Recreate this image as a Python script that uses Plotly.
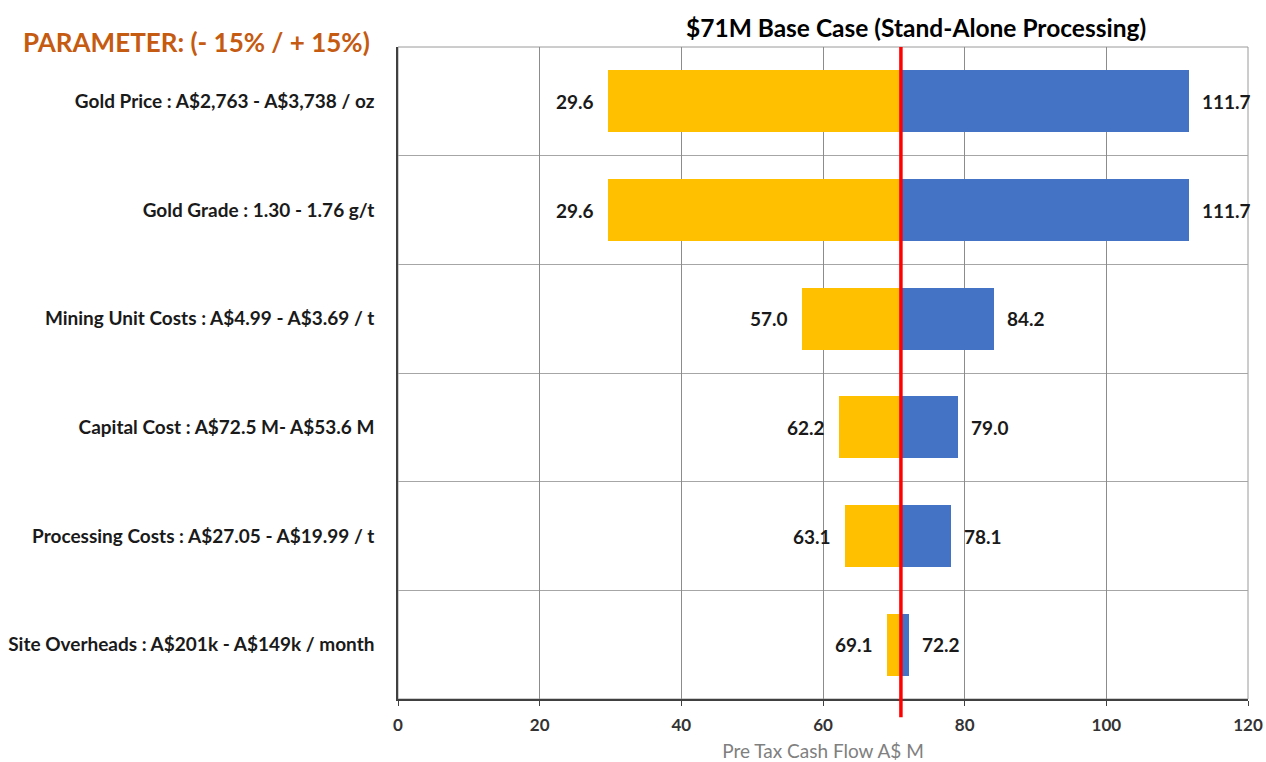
import plotly.graph_objects as go

categories = [
    "Gold Price : A$2,763 - A$3,738 / oz",
    "Gold Grade : 1.30 - 1.76 g/t",
    "Mining Unit Costs : A$4.99 - A$3.69 / t",
    "Capital Cost : A$72.5 M- A$53.6 M",
    "Processing Costs : A$27.05 - A$19.99 / t",
    "Site Overheads : A$201k - A$149k / month",
]
low_values = [29.6, 29.6, 57.0, 62.2, 63.1, 69.1]
high_values = [111.7, 111.7, 84.2, 79.0, 78.1, 72.2]
base_case = 71
x_ticks = [0, 20, 40, 60, 80, 100, 120]

n = len(categories)
ypos = [n - 1 - i for i in range(n)]

FONT = "Lato"
fig = go.Figure()
fig.add_trace(go.Bar(
    y=ypos, x=[base_case - v for v in low_values], base=low_values,
    orientation="h", marker=dict(color="#FFC000", line=dict(width=0)),
    width=0.57, showlegend=False, hoverinfo="skip"))
fig.add_trace(go.Bar(
    y=ypos, x=[v - base_case for v in high_values], base=[base_case] * n,
    orientation="h", marker=dict(color="#4472C4", line=dict(width=0)),
    width=0.57, showlegend=False, hoverinfo="skip"))

for yy, lo, hi in zip(ypos, low_values, high_values):
    fig.add_annotation(x=lo, y=yy, text=f"{lo:.1f}", showarrow=False,
                       xanchor="right", xshift=-12,
                       font=dict(family=FONT, size=19, color="#1a1a1a", weight="bold"))
    fig.add_annotation(x=hi, y=yy, text=f"{hi:.1f}", showarrow=False,
                       xanchor="left", xshift=11,
                       font=dict(family=FONT, size=19, color="#1a1a1a", weight="bold"))

# plot frame (gray top/right)
fig.add_shape(type="rect", xref="paper", yref="paper", x0=0, x1=1, y0=0, y1=1,
              line=dict(color="#9a9a9a", width=1), layer="below")
# base case red line
fig.add_shape(type="line", xref="x", yref="paper", x0=base_case, x1=base_case,
              y0=-0.028, y1=1.0, line=dict(color="#FF0000", width=3.5))

fig.add_annotation(xref="paper", yref="paper", x=0.609, y=1.0, yanchor="bottom", yshift=3,
                   text="$71M Base Case (Stand-Alone Processing)", showarrow=False,
                   font=dict(family=FONT, size=24.5, color="#000000", weight="bold"))
fig.add_annotation(xref="paper", yref="paper", x=-0.443, y=1.0, xanchor="left",
                   yanchor="middle", yshift=5,
                   text="PARAMETER: (- 15% / + 15%)", showarrow=False,
                   font=dict(family=FONT, size=26, color="#C55A11", weight="bold"))

fig.update_layout(
    width=1266, height=762,
    margin=dict(l=398, r=18, t=47, b=63, autoexpand=False),
    paper_bgcolor="white", plot_bgcolor="white",
    barmode="overlay", bargap=0,
    xaxis=dict(range=[0, 120], tickvals=x_ticks, showgrid=True, gridcolor="#8c8c8c",
               gridwidth=1, zeroline=False, showline=True, linecolor="#404040",
               linewidth=1.5, ticks="outside", ticklen=5, tickcolor="#404040",
               automargin=False, ticklabelstandoff=5,
               tickfont=dict(family=FONT, size=17, color="#333333", weight="bold"),
               title=dict(text="Pre Tax Cash Flow A$ M", standoff=14,
                          font=dict(family=FONT, size=19, color="#808080"))),
    yaxis=dict(range=[-0.5, n - 0.5], tickvals=ypos, ticktext=categories,
               showgrid=False, zeroline=False, showline=True, linecolor="#404040",
               linewidth=1.5, ticks="", ticklabelstandoff=18, automargin=False,
               tickfont=dict(family=FONT, size=19, color="#1a1a1a", weight="bold"),
               minor=dict(tickmode="array", tickvals=[i + 0.5 for i in range(n - 1)],
                          showgrid=True, gridcolor="#a6a6a6", gridwidth=1, ticks="")),
)

fig.write_html("out.html")
